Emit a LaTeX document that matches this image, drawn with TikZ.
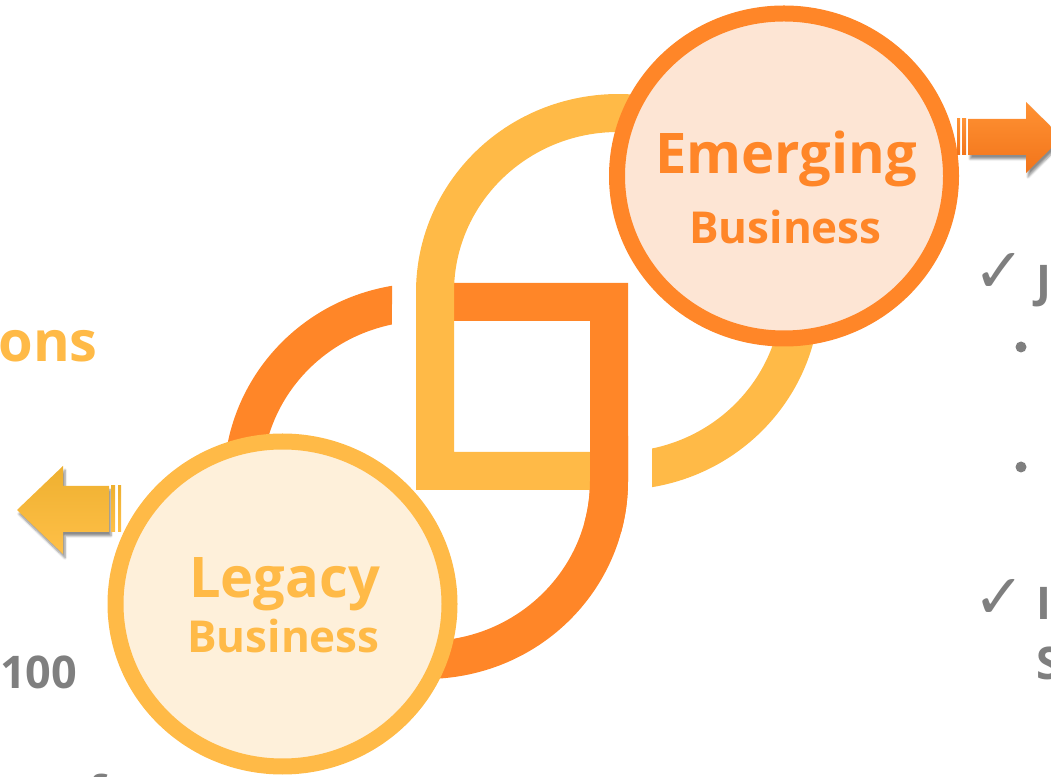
\documentclass[tikz,border=0pt]{standalone}
\usepackage{fontspec}
\setmainfont{Open Sans}
\newfontfamily\symfont{DejaVu Sans}
\usetikzlibrary{shapes.geometric,shadows.blur}

\definecolor{bandorange}{RGB}{255,134,40}
\definecolor{bandyellow}{RGB}{255,186,71}
\definecolor{emfill}{RGB}{253,229,212}
\definecolor{legfill}{RGB}{254,240,218}
\definecolor{txtgrey}{RGB}{127,127,127}
\definecolor{arrOtop}{RGB}{255,146,52}
\definecolor{arrObot}{RGB}{242,116,26}
\definecolor{arrYtop}{RGB}{238,176,48}
\definecolor{arrYbot}{RGB}{255,192,72}

\begin{document}
\begin{tikzpicture}[x=1pt,y=1pt,
  ring/.style={draw, ellipse, line width=16pt, inner sep=0pt,
               minimum width=334pt, minimum height=325pt},
  bigword/.style={anchor=base, inner sep=0pt, font=\bfseries\fontsize{56}{60}\selectfont},
  smallword/.style={anchor=base, inner sep=0pt, font=\bfseries\fontsize{44}{48}\selectfont},
  greytxt/.style={inner sep=0pt, text=txtgrey, font=\bfseries\fontsize{45}{50}\selectfont},
  tick/.style={inner sep=0pt, text=txtgrey, font=\symfont\fontsize{62}{70}\selectfont},
  dot/.style={circle, fill=txtgrey, inner sep=0pt, minimum size=11pt},
  arrowshadow/.style={blur shadow={shadow xshift=2pt, shadow yshift=-4pt,
               shadow blur steps=6, shadow opacity=45}}
]
\useasboundingbox (0,0) rectangle (1051,776);

% orange band: rounded on three sides, square corner top right,
% open at the top left with a vertical cut
\fill[bandorange] (392,490.2)
  arc[start angle=99.69, end angle=360, x radius=202, y radius=198]
  -- (628,493) -- (430,493) -- (430,455) -- (590,455) -- (590,295)
  arc[start angle=0, end angle=-258.03, x radius=164, y radius=160]
  -- cycle;

% yellow band: the same form turned half round, square corner bottom left
\fill[bandyellow] (652,288.8)
  arc[start angle=-80.31, end angle=180, x radius=202, y radius=198]
  -- (416,286) -- (614,286) -- (614,324) -- (454,324) -- (454,484)
  arc[start angle=180, end angle=-78.03, x radius=164, y radius=160]
  -- cycle;

% orange passes over the yellow bar at the lower crossing
\fill[bandorange] (628,340) -- (628,295)
  arc[start angle=0, end angle=-15, x radius=202, y radius=198]
  -- (584.41,253.59)
  arc[start angle=-15, end angle=0, x radius=164, y radius=160]
  -- (590,340) -- cycle;

% business circles
\node[ring, draw=bandorange, fill=emfill] (emerging) at (784,600) {};
\node[ring, draw=bandyellow, fill=legfill] (legacy) at (282.5,172) {};

\node[bigword, text=bandorange] (emw1) at (786,602) {Emerging};
\node[smallword, text=bandorange] (emw2) at (785.5,532) {Business};
\node[bigword, text=bandyellow] (lgw1) at (284.5,178) {Legacy};
\node[smallword, text=bandyellow] (lgw2) at (283.5,124) {Business};

% right arrow (orange)
\path[arrowshadow, top color=arrOtop, bottom color=arrObot]
  (968,657) -- (1026,657) -- (1026,674) -- (1062,638.5) -- (1026,603)
  -- (1026,621) -- (968,621) -- cycle;
\fill[top color=arrOtop, bottom color=arrObot] (957,621) rectangle (960,657);
\fill[top color=arrOtop, bottom color=arrObot] (962,621) rectangle (966,657);

% left arrow (yellow)
\path[arrowshadow, top color=arrYtop, bottom color=arrYbot]
  (109,290) -- (63,290) -- (63,310) -- (17,266) -- (63,222)
  -- (63,244) -- (109,244) -- cycle;
\fill[top color=arrYtop, bottom color=arrYbot] (111,244) rectangle (115,290);
\fill[top color=arrYtop, bottom color=arrYbot] (118,244) rectangle (121,290);

% side texts
\node[bigword, anchor=base east, text=bandyellow] (ons) at (98,414) {ons};
\node[greytxt, anchor=base west] (hundred) at (0,88) {100};
\node[greytxt, anchor=base west] (fpart) at (88,-32) {f};

\node[tick, anchor=center] (tickA) at (999,503) {✓};
\node[greytxt, anchor=base west] (jpart) at (1036,478) {J};
\node[dot] (dotA) at (1021,429) {};
\node[dot] (dotB) at (1021,309) {};
\node[tick, anchor=center] (tickB) at (999,177) {✓};
\node[greytxt, anchor=base west] (ipart) at (1036,156) {I};
\node[greytxt, anchor=base west] (spart) at (1036,96) {S};
\end{tikzpicture}
\end{document}
